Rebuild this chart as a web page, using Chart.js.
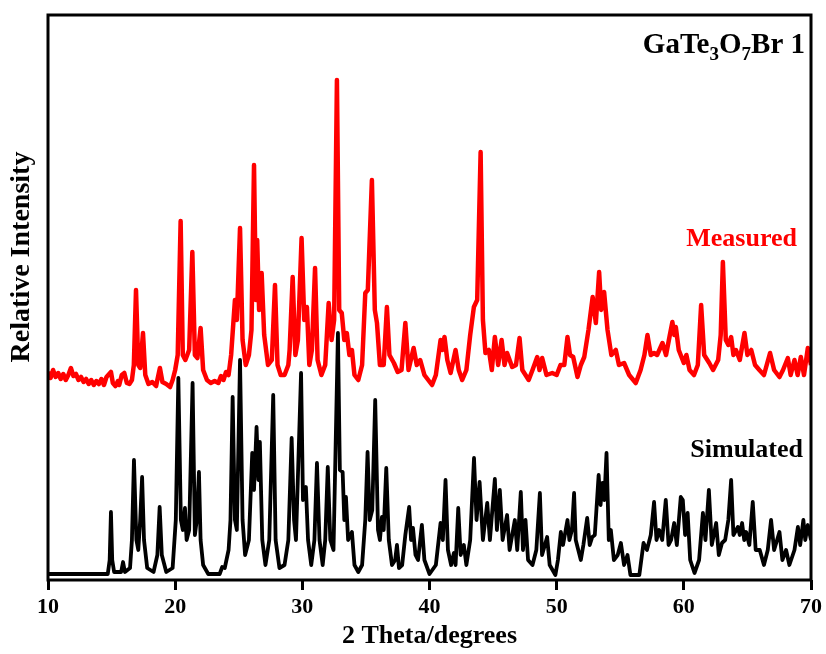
<!DOCTYPE html>
<html>
<head>
<meta charset="utf-8">
<script src="https://cdn.jsdelivr.net/npm/chart.js@4/dist/chart.umd.min.js"></script>
<style>
html,body{margin:0;padding:0;background:#fff;}
#wrap{width:826px;height:654px;position:relative;}
</style>
</head>
<body>
<div id="wrap"><canvas id="c" width="826" height="654"></canvas></div>
<script>
// ---- data ----
const xTicks = [10, 20, 30, 40, 50, 60, 70];

const simTheta = [10.0,14.7,14.85,14.95,15.05,15.2,15.75,15.9,16.05,16.45,16.6,16.76,16.95,17.1,17.25,17.4,17.55,17.8,18.3,18.6,18.78,18.95,19.3,19.8,20.05,20.25,20.45,20.6,20.77,20.9,21.1,21.37,21.55,21.7,21.87,22.0,22.2,22.6,23.5,23.7,23.9,24.2,24.35,24.52,24.7,24.85,25.1,25.3,25.5,25.8,26.06,26.2,26.4,26.55,26.66,26.85,27.1,27.4,27.71,27.9,28.2,28.6,28.9,29.16,29.35,29.5,29.9,30.05,30.28,30.45,30.7,30.95,31.15,31.35,31.6,31.8,32.0,32.2,32.45,32.8,32.95,33.17,33.3,33.43,33.6,33.9,34.1,34.4,34.7,34.95,35.13,35.3,35.5,35.73,35.95,36.1,36.26,36.4,36.6,36.8,37.05,37.3,37.44,37.6,37.85,38.1,38.4,38.55,38.7,38.9,39.1,39.4,39.6,40.0,40.5,40.87,41.05,41.26,41.45,41.7,41.92,42.05,42.26,42.45,42.7,42.9,43.2,43.5,43.7,43.94,44.2,44.54,44.75,45.14,45.3,45.53,45.75,46.1,46.3,46.71,46.9,47.18,47.35,47.55,47.75,48.1,48.4,48.68,48.85,49.25,49.45,49.9,50.1,50.33,50.5,50.85,51.0,51.2,51.37,51.5,51.7,51.9,52.1,52.4,52.6,52.8,53.0,53.3,53.45,53.6,53.75,53.92,54.1,54.26,54.5,54.8,55.05,55.3,55.57,55.8,56.5,56.83,57.1,57.4,57.66,57.85,58.06,58.3,58.58,58.8,59.0,59.24,59.45,59.76,59.92,60.1,60.3,60.5,60.84,61.2,61.5,61.7,61.97,62.2,62.54,62.75,63.0,63.25,63.5,63.72,63.9,64.25,64.4,64.58,64.75,64.9,65.15,65.42,65.65,65.97,66.3,66.6,66.86,67.1,67.52,67.75,68.04,68.3,68.7,68.97,69.15,69.4,69.55,69.75,70.0];
const simIntensity = [6,6,20,68,20,8,8,18,8,12,40,120,40,30,60,103,40,12,8,25,73,25,8,12,60,202,60,50,72,40,50,197,45,60,108,40,15,6,6,13,12,30,60,183,60,50,220,60,25,40,127,90,153,100,138,40,15,40,185,40,12,15,40,142,60,40,207,80,93,40,15,40,117,40,15,40,113,40,30,247,110,108,60,83,40,48,15,8,15,60,128,60,70,180,50,40,63,50,112,40,15,20,35,12,15,45,73,40,52,25,20,55,20,6,15,57,40,100,30,15,27,15,72,25,35,15,40,122,60,98,40,77,40,101,50,90,40,65,30,60,30,88,30,60,20,15,30,87,25,43,15,5,20,48,35,60,40,50,87,40,30,20,35,62,35,43,45,105,75,97,80,127,40,50,20,25,37,15,25,5,5,37,30,45,78,40,50,40,80,35,40,57,35,83,80,45,67,20,7,20,67,40,90,35,57,25,37,40,60,100,45,53,45,57,40,48,35,78,30,30,15,30,60,30,48,20,30,15,30,53,35,60,40,55,40];

const measTheta = [10.0,10.2,10.4,10.6,10.8,11.0,11.2,11.4,11.6,11.8,12.0,12.2,12.4,12.6,12.8,13.0,13.2,13.4,13.6,13.8,14.0,14.2,14.4,14.6,14.95,15.1,15.3,15.5,15.6,15.8,16.0,16.2,16.4,16.6,16.75,16.92,17.1,17.25,17.47,17.65,17.9,18.2,18.5,18.8,19.0,19.3,19.6,19.8,20.0,20.2,20.43,20.6,20.8,21.1,21.35,21.55,21.75,22.0,22.2,22.5,22.8,23.1,23.4,23.6,23.8,24.0,24.2,24.4,24.7,24.85,25.1,25.3,25.55,25.8,26.0,26.2,26.35,26.45,26.6,26.8,27.0,27.3,27.6,27.85,28.05,28.3,28.6,28.9,29.0,29.24,29.45,29.65,29.94,30.15,30.36,30.55,30.75,31.0,31.2,31.5,31.8,32.07,32.3,32.5,32.72,32.9,33.1,33.3,33.5,33.7,33.9,34.1,34.4,34.7,34.95,35.15,35.47,35.7,35.87,36.1,36.4,36.65,36.85,37.2,37.5,37.8,38.1,38.35,38.75,39.0,39.27,39.6,39.9,40.2,40.5,40.87,41.0,41.18,41.4,41.66,42.05,42.3,42.57,42.9,43.2,43.49,43.75,44.02,44.2,44.4,44.67,44.9,45.14,45.4,45.67,45.9,46.1,46.5,46.8,47.08,47.3,47.8,48.1,48.47,48.65,48.86,49.2,49.65,50.0,50.3,50.6,50.85,51.05,51.3,51.64,51.9,52.17,52.5,52.83,53.08,53.34,53.5,53.73,54.0,54.3,54.65,54.9,55.3,55.7,56.22,56.6,56.9,57.14,57.4,57.66,57.9,58.32,58.6,58.9,59.1,59.25,59.37,59.6,60.0,60.2,60.45,60.8,61.1,61.36,61.6,62.0,62.3,62.7,62.9,63.07,63.3,63.5,63.72,63.9,64.1,64.4,64.77,65.0,65.3,65.6,65.94,66.3,66.78,67.1,67.52,67.8,68.18,68.4,68.7,68.95,69.2,69.45,69.75,70.0];
const measIntensity = [208,202,210,203,207,201,206,200,205,212,204,206,200,203,198,201,196,200,195,199,196,201,195,203,208,197,194,199,195,205,207,197,196,200,215,290,215,212,247,205,196,198,194,212,198,196,193,200,210,225,359,225,220,230,328,225,222,252,210,200,197,199,197,204,200,208,205,225,280,260,352,240,215,225,250,415,280,340,270,307,245,215,220,295,215,205,205,215,230,303,225,240,342,260,273,215,230,312,220,205,215,277,240,260,500,270,267,240,247,225,230,205,200,215,287,290,400,270,257,215,215,273,225,217,208,210,257,210,232,215,220,205,200,195,205,240,230,243,220,207,230,210,200,210,245,273,280,428,260,227,230,210,243,215,240,215,227,213,215,242,210,200,210,223,210,222,205,207,205,215,215,243,225,223,203,215,223,250,283,257,308,270,288,250,225,230,215,217,205,197,210,225,245,225,227,225,237,225,245,258,245,253,230,217,225,210,205,215,275,225,217,210,220,245,318,240,235,243,225,230,220,247,225,230,215,210,205,227,210,203,210,222,205,220,205,223,205,232,215];

const SERIF = '"Liberation Serif","Times New Roman",serif';

function toPts(xs, ys){ return xs.map((x,i)=>({x:x, y:ys[i]})); }

const framePlugin = {
  id: 'frame',
  afterDatasetsDraw(chart){
    const {ctx, chartArea:a} = chart;
    ctx.save();
    ctx.strokeStyle = '#000';
    ctx.lineWidth = 3;
    ctx.strokeRect(a.left, a.top, a.right - a.left, a.bottom - a.top);
    ctx.restore();
  },
  afterDraw(chart){
    const {ctx} = chart;
    ctx.save();
    ctx.translate(22, 257);
    ctx.rotate(-Math.PI/2);
    ctx.font = 'bold 28px ' + SERIF;
    ctx.fillStyle = '#000';
    ctx.textAlign = 'center';
    ctx.textBaseline = 'middle';
    ctx.fillText('Relative Intensity', 0, 0);
    ctx.restore();

    ctx.save();
    ctx.textBaseline = 'alphabetic';
    ctx.textAlign = 'right';
    ctx.font = 'bold 26px ' + SERIF;
    ctx.fillStyle = '#ff0000';
    ctx.fillText('Measured', 797, 246);
    ctx.fillStyle = '#000';
    ctx.fillText('Simulated', 803, 457);

    const parts = [['Ga',0],['Te',0],['3',1],['O',0],['7',1],['Br 1',0]];
    const big = 'bold 29px ' + SERIF, small = 'bold 19px ' + SERIF;
    let total = 0;
    parts.forEach(p=>{ ctx.font = p[1]?small:big; total += ctx.measureText(p[0]).width; });
    let x = 805 - total;
    ctx.textAlign = 'left';
    parts.forEach(p=>{
      ctx.font = p[1]?small:big;
      ctx.fillText(p[0], x, p[1]? 60 : 53);
      x += ctx.measureText(p[0]).width;
    });
    ctx.restore();
  }
};

new Chart(document.getElementById('c'), {
  type: 'line',
  data: {
    datasets: [
      { label: 'Measured', data: toPts(measTheta, measIntensity), borderColor: '#ff0000', borderWidth: 4.5, pointRadius: 0, tension: 0, borderJoinStyle: 'round' },
      { label: 'Simulated', data: toPts(simTheta, simIntensity), borderColor: '#000000', borderWidth: 3.8, pointRadius: 0, tension: 0, borderJoinStyle: 'round' }
    ]
  },
  options: {
    responsive: false,
    animation: false,
    events: [],
    layout: { padding: { top: 15, right: 15, left: 0, bottom: 0 } },
    plugins: { legend: { display: false }, tooltip: { enabled: false } },
    scales: {
      x: {
        type: 'linear', min: 10, max: 70,
        afterFit: s => { s.height = 74; },
        afterBuildTicks: s => { s.ticks = xTicks.map(v => ({value: v})); },
        border: { display: false },
        grid: { display: true, drawOnChartArea: false, drawTicks: true, tickLength: 10, tickWidth: 3, tickColor: '#000', color: '#000', lineWidth: 3 },
        ticks: { color: '#000', font: { family: SERIF, size: 22, weight: 'bold' }, padding: 4, maxRotation: 0 },
        title: { display: true, text: '2 Theta/degrees', color: '#000', font: { family: SERIF, size: 26, weight: 'bold' }, padding: { top: 0, bottom: 2 } }
      },
      y: {
        min: 0, max: 565,
        afterFit: s => { s.width = 48; },
        border: { display: false },
        grid: { display: false },
        ticks: { display: false }
      }
    }
  },
  plugins: [framePlugin]
});
</script>
</body>
</html>
